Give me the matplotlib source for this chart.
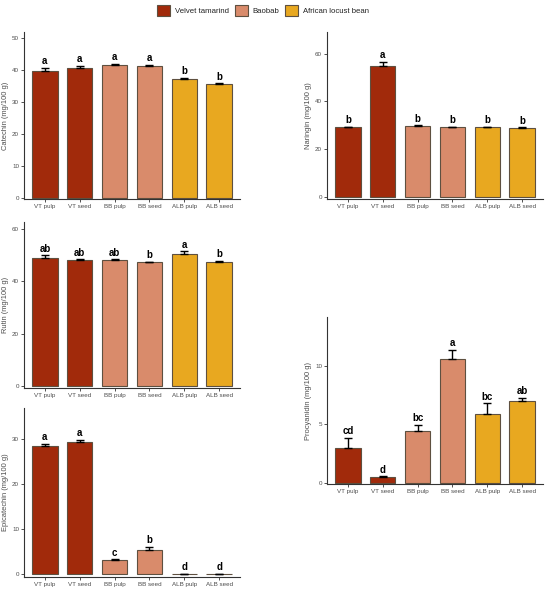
import matplotlib.pyplot as plt
from matplotlib.patches import Patch

plt.rcParams['font.family'] = ['Liberation Sans', 'DejaVu Sans']

# donnees
echantillons = ['VT pulp', 'VT seed', 'BB pulp', 'BB seed', 'ALB pulp', 'ALB seed']
especes = ['Velvet tamarind', 'Baobab', 'African locust bean']
couleurs_especes = ['#a12a0b', '#d98b6b', '#e8a820']
espece_par_barre = [0, 0, 1, 1, 2, 2]

catechine = [39.9, 40.8, 41.8, 41.4, 37.4, 35.7]
catechine_err = [0.8, 0.6, 0.3, 0.3, 0.3, 0.2]
catechine_lettres = ['a', 'a', 'a', 'a', 'b', 'b']

naringine = [29.2, 54.7, 29.7, 29.2, 29.3, 29.0]
naringine_err = [0.2, 1.8, 0.3, 0.3, 0.2, 0.2]
naringine_lettres = ['b', 'a', 'b', 'b', 'b', 'b']

rutine = [48.9, 48.1, 48.1, 47.4, 50.6, 47.6]
rutine_err = [1.1, 0.4, 0.4, 0.2, 0.9, 0.3]
rutine_lettres = ['ab', 'ab', 'ab', 'b', 'a', 'b']

epicatechine = [28.5, 29.2, 3.1, 5.3, 0.1, 0.1]
epicatechine_err = [0.3, 0.5, 0.2, 0.7, 0.05, 0.05]
epicatechine_lettres = ['a', 'a', 'c', 'b', 'd', 'd']

procyanidine = [3.0, 0.46, 4.4, 10.6, 5.87, 7.04]
procyanidine_err = [0.88, 0.1, 0.55, 0.8, 0.94, 0.26]
procyanidine_lettres = ['cd', 'd', 'bc', 'a', 'bc', 'ab']

gris_axe = '#333333'
gris_texte = '#4d4d4d'
bord_barre = '#5e5040'


def trace_panneau(fig, rect, valeurs, erreurs, lettres, titre_y, ylim, yticks):
    ax = fig.add_axes(rect)
    x = list(range(1, len(valeurs) + 1))
    couleurs = [couleurs_especes[k] for k in espece_par_barre]
    ax.bar(x, valeurs, width=0.73, color=couleurs, edgecolor=bord_barre, linewidth=0.8, zorder=2)
    ax.errorbar(x, valeurs, yerr=[[0] * len(erreurs), erreurs], fmt='none',
                ecolor='black', elinewidth=1.0, capsize=2.8, capthick=1.0, zorder=3)
    decalage = (ylim[1] - ylim[0]) * 0.01
    for xi, v, e, l in zip(x, valeurs, erreurs, lettres):
        ax.text(xi, v + e + decalage, l, ha='center', va='bottom',
                fontsize=7, fontweight='bold', color='black')
    ax.set_xlim(0.4, 6.6)
    ax.set_ylim(*ylim)
    ax.set_yticks(yticks)
    ax.set_xticks(x)
    ax.set_xticklabels(echantillons)
    ax.set_ylabel(titre_y, fontsize=5.4, color=gris_texte, labelpad=2)
    for cote in ['top', 'right']:
        ax.spines[cote].set_visible(False)
    for cote in ['left', 'bottom']:
        ax.spines[cote].set_color(gris_axe)
        ax.spines[cote].set_linewidth(0.8)
    ax.tick_params(axis='both', labelsize=4.5, colors=gris_axe, labelcolor=gris_texte,
                   length=2, width=0.6, pad=1.5)
    return ax


fig = plt.figure(figsize=(5.5, 5.94), dpi=100)

trace_panneau(fig, [0.0436, 0.665, 0.393, 0.281], catechine, catechine_err, catechine_lettres,
              'Catechin (mg/100 g)', (-0.4, 52), [0, 10, 20, 30, 40, 50])
trace_panneau(fig, [0.5945, 0.665, 0.393, 0.281], naringine, naringine_err, naringine_lettres,
              'Naringin (mg/100 g)', (-0.8, 69), [0, 20, 40, 60])
trace_panneau(fig, [0.0436, 0.3468, 0.393, 0.2795], rutine, rutine_err, rutine_lettres,
              'Rutin (mg/100 g)', (-0.8, 62.8), [0, 20, 40, 60])
trace_panneau(fig, [0.0436, 0.0286, 0.393, 0.2845], epicatechine, epicatechine_err, epicatechine_lettres,
              'Epicatechin (mg/100 g)', (-0.6, 36.8), [0, 10, 20, 30])
trace_panneau(fig, [0.5945, 0.1852, 0.393, 0.281], procyanidine, procyanidine_err, procyanidine_lettres,
              'Procyanidin (mg/100 g)', (-0.1, 14.2), [0, 5, 10])

poignees = [Patch(facecolor=c, edgecolor=bord_barre, linewidth=0.8) for c in couleurs_especes]
fig.legend(poignees, especes, loc='center', bbox_to_anchor=(0.478, 0.982), ncol=3,
           frameon=False, fontsize=5.6, handlelength=1.7, handleheight=1.7,
           handletextpad=0.6, columnspacing=0.7, labelcolor='#222222',
           borderpad=0, borderaxespad=0)

fig.savefig('out.png', dpi=100)
